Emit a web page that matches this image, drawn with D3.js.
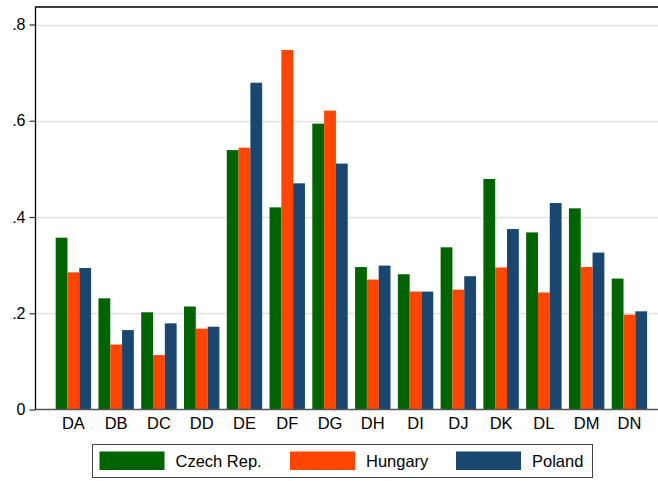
<!DOCTYPE html>
<html>
<head>
<meta charset="utf-8">
<script src="https://cdn.jsdelivr.net/npm/d3@7"></script>
<style>
  html, body { margin: 0; padding: 0; background: #fff; }
  svg { display: block; font-family: "Liberation Sans", Arial, sans-serif; }
</style>
</head>
<body>
<svg id="chart" width="658" height="481"></svg>
<script>
// Industry categories on the x axis
const categories = ["DA","DB","DC","DD","DE","DF","DG","DH","DI","DJ","DK","DL","DM","DN"];
const seriesNames = ["Czech Rep.","Hungary","Poland"];
const czech   = [0.357,0.231,0.202,0.214,0.539,0.420,0.594,0.296,0.281,0.337,0.479,0.368,0.418,0.272];
const hungary = [0.285,0.135,0.113,0.168,0.544,0.747,0.621,0.270,0.245,0.249,0.295,0.243,0.296,0.197];
const poland  = [0.294,0.165,0.179,0.172,0.679,0.470,0.511,0.299,0.245,0.277,0.375,0.429,0.326,0.204];
const yTicks = [0, 0.2, 0.4, 0.6, 0.8];
const yTickLabels = ["0", ".2", ".4", ".6", ".8"];
const colors = ["#006400", "#ff4500", "#1a476f"];

const seriesValues = [czech, hungary, poland];
const svg = d3.select("#chart");

const plot = { left: 35.5, right: 700, top: 7, bottom: 409.5 };

const y = d3.scaleLinear().domain([0, 0.8]).range([409.5, 24.5]);
const x = d3.scaleBand().domain(categories).range([52, 650.8])
  .paddingInner(0.172).paddingOuter(0.086);
const xs = d3.scaleBand().domain(seriesNames).range([0, x.bandwidth()]).padding(0);

// Horizontal grid lines
svg.append("g").selectAll("line")
  .data(yTicks.filter(d => d > 0))
  .join("line")
  .attr("x1", plot.left).attr("x2", plot.right)
  .attr("y1", d => Math.round(y(d)) + 0.5).attr("y2", d => Math.round(y(d)) + 0.5)
  .attr("stroke", "#e3e3e3").attr("stroke-width", 1.3);

// Top frame line
svg.append("line")
  .attr("x1", plot.left).attr("x2", plot.right)
  .attr("y1", plot.top).attr("y2", plot.top)
  .attr("stroke", "#000").attr("stroke-width", 1.3);

// Bars
const groups = svg.append("g").selectAll("g")
  .data(categories)
  .join("g")
  .attr("transform", d => `translate(${x(d)},0)`);

groups.selectAll("rect")
  .data((d, i) => seriesNames.map((s, j) => ({ s, v: seriesValues[j][i], c: colors[j] })))
  .join("rect")
  .attr("x", d => xs(d.s))
  .attr("width", xs.bandwidth())
  .attr("y", d => y(d.v))
  .attr("height", d => y(0) - y(d.v))
  .attr("fill", d => d.c);

// Baseline
svg.append("line")
  .attr("x1", plot.left).attr("x2", plot.right)
  .attr("y1", y(0)).attr("y2", y(0))
  .attr("stroke", "#555").attr("stroke-width", 1.5);

// Y axis
const yAxis = d3.axisLeft(y).tickValues(yTicks)
  .tickFormat((d, i) => yTickLabels[i]).tickSize(6).tickPadding(4);
const gy = svg.append("g").attr("transform", `translate(${plot.left},0)`).call(yAxis);
gy.select(".domain").remove();
gy.selectAll(".tick line").attr("stroke", "#333").attr("stroke-width", 1.2);
gy.selectAll(".tick text").attr("font-size", 16).attr("fill", "#000")
  .attr("font-family", "Liberation Sans, Arial, sans-serif");
svg.append("line")
  .attr("x1", plot.left).attr("x2", plot.left)
  .attr("y1", plot.top - 0.6).attr("y2", y(0))
  .attr("stroke", "#000").attr("stroke-width", 1.3);

// X axis labels
const xAxis = d3.axisBottom(x).tickSize(0).tickPadding(8);
const gx = svg.append("g").attr("transform", `translate(0,${y(0)})`).call(xAxis);
gx.select(".domain").remove();
gx.selectAll(".tick text").attr("font-size", 16.5).attr("fill", "#000")
  .attr("font-family", "Liberation Sans, Arial, sans-serif");

// Legend
const legend = svg.append("g");
legend.append("rect")
  .attr("x", 92.5).attr("y", 444.5).attr("width", 500).attr("height", 33)
  .attr("fill", "#fff").attr("stroke", "#444").attr("stroke-width", 1);
const legendX = [99.5, 290, 456];
const items = legend.selectAll("g.item")
  .data(seriesNames)
  .join("g").attr("class", "item")
  .attr("transform", (d, i) => `translate(${legendX[i]},0)`);
items.append("rect")
  .attr("x", 0).attr("y", 451.5).attr("width", 65).attr("height", 18.5)
  .attr("fill", (d, i) => colors[i]);
items.append("text")
  .attr("x", 76).attr("y", 467)
  .attr("font-size", 16.5).attr("fill", "#000")
  .text(d => d);
</script>
</body>
</html>
